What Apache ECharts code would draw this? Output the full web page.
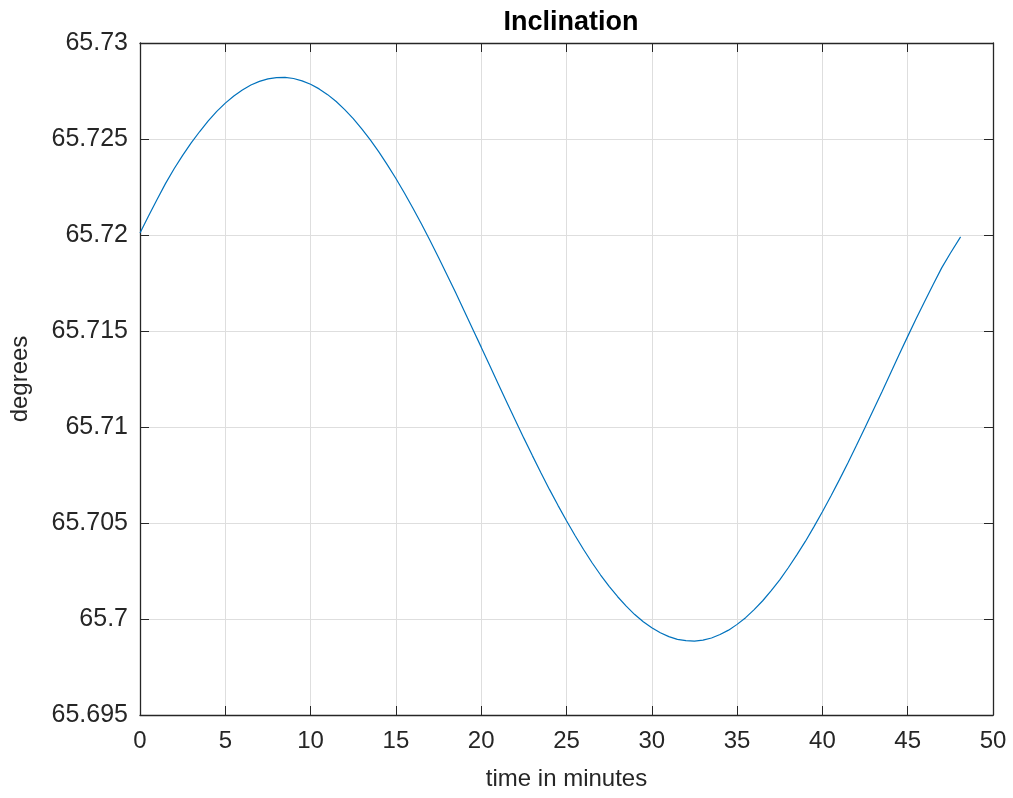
<!DOCTYPE html>
<html>
<head>
<meta charset="utf-8">
<script src="https://cdn.jsdelivr.net/npm/echarts@6/dist/echarts.min.js"></script>
<style>html,body{margin:0;padding:0;background:#fff}#c{width:1013px;height:798px}</style>
</head>
<body>
<div id="c"></div>
<script>
const timeMinutes = [0,0.5,1,1.5,2,2.5,3,3.5,4,4.5,5,5.5,6,6.5,7,7.5,8,8.5,9,9.5,10,10.5,11,11.5,12,12.5,13,13.5,14,14.5,15,15.5,16,16.5,17,17.5,18,18.5,19,19.5,20,20.5,21,21.5,22,22.5,23,23.5,24,24.5,25,25.5,26,26.5,27,27.5,28,28.5,29,29.5,30,30.5,31,31.5,32,32.5,33,33.5,34,34.5,35,35.5,36,36.5,37,37.5,38,38.5,39,39.5,40,40.5,41,41.5,42,42.5,43,43.5,44,44.5,45,45.5,46,46.5,47,47.5,48.1];
const inclinationDeg = [65.7201,65.72099,65.72185,65.72269,65.72345,65.72415,65.72480,65.72539,65.72594,65.72644,65.72687,65.72724,65.72755,65.72781,65.72800,65.72813,65.72820,65.72821,65.72815,65.72803,65.72785,65.72761,65.72731,65.72695,65.72653,65.72606,65.72553,65.72495,65.72433,65.72365,65.72294,65.72219,65.72139,65.72057,65.71971,65.71883,65.71792,65.71700,65.71606,65.71511,65.71416,65.71320,65.71224,65.71129,65.71035,65.70942,65.70851,65.70762,65.70675,65.70592,65.70512,65.70435,65.70362,65.70293,65.70229,65.70170,65.70116,65.70067,65.70023,65.69986,65.69954,65.69928,65.69908,65.69894,65.69887,65.69885,65.69890,65.69901,65.69919,65.69942,65.69972,65.70007,65.70049,65.70095,65.70148,65.70204,65.70267,65.70334,65.70404,65.70480,65.70559,65.70641,65.70726,65.70814,65.70905,65.70997,65.71091,65.71185,65.71281,65.71377,65.71472,65.71565,65.71655,65.71743,65.71830,65.71905,65.71990];
const xTicks = [0,5,10,15,20,25,30,35,40,45,50];
const yTickLabels = ['65.695','65.7','65.705','65.71','65.715','65.72','65.725','65.73'];

const axisColor = '#262626';
const font = 'Liberation Sans, Arial, Helvetica, sans-serif';
const chart = echarts.init(document.getElementById('c'));
const data = timeMinutes.map((t, i) => [t, inclinationDeg[i]]);
const yMin = +yTickLabels[0], yMax = +yTickLabels[yTickLabels.length - 1];
const xMin = xTicks[0], xMax = xTicks[xTicks.length - 1];
const tickCommon = {show: true, inside: true, length: 9, lineStyle: {color: axisColor, width: 1}};
const lineCommon = {show: true, onZero: false, lineStyle: {color: axisColor, width: 1.3}};
chart.setOption({
  animation: false,
  title: {
    text: 'Inclination', left: 566, top: 4, textAlign: 'center',
    textStyle: {fontFamily: font, fontSize: 27, fontWeight: 'bold', color: '#000'}
  },
  grid: {left: 140, right: 20, top: 43, bottom: 83, containLabel: false},
  xAxis: [{
    type: 'value', min: xMin, max: xMax, interval: 5, position: 'bottom',
    name: 'time in minutes', nameLocation: 'middle', nameGap: 52,
    nameTextStyle: {fontFamily: font, fontSize: 24, color: axisColor},
    axisLine: lineCommon, axisTick: tickCommon,
    axisLabel: {fontFamily: font, fontSize: 24, color: axisColor, margin: 14},
    splitLine: {show: true, lineStyle: {color: '#dedede', width: 1}}
  }, {
    type: 'value', min: xMin, max: xMax, interval: 5, position: 'top',
    axisLine: lineCommon, axisTick: tickCommon, axisLabel: {show: false}, splitLine: {show: false}
  }],
  yAxis: [{
    type: 'value', min: yMin, max: yMax, interval: 0.005, position: 'left',
    name: 'degrees', nameLocation: 'middle', nameGap: 108,
    nameTextStyle: {fontFamily: font, fontSize: 24, color: axisColor},
    axisLine: lineCommon, axisTick: tickCommon,
    axisLabel: {fontFamily: font, fontSize: 25, color: axisColor, margin: 12,
      formatter: v => { const i = Math.round((v - yMin) / 0.005); return yTickLabels[i] !== undefined ? yTickLabels[i] : ''; }},
    splitLine: {show: true, lineStyle: {color: '#dedede', width: 1}}
  }, {
    type: 'value', min: yMin, max: yMax, interval: 0.005, position: 'right',
    axisLine: lineCommon, axisTick: tickCommon, axisLabel: {show: false}, splitLine: {show: false}
  }],
  series: [{
    type: 'line', data: data, xAxisIndex: 0, yAxisIndex: 0,
    showSymbol: false, smooth: false,
    lineStyle: {color: '#0072BD', width: 1.2}
  }]
});
</script>
</body>
</html>
